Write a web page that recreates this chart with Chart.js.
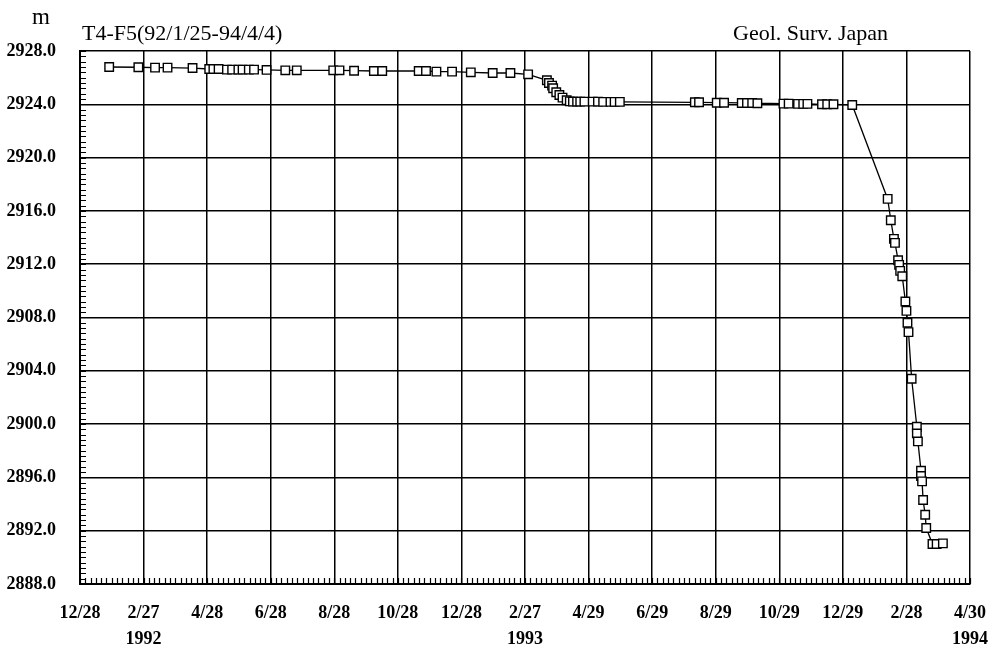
<!DOCTYPE html>
<html>
<head>
<meta charset="utf-8">
<script src="https://cdn.jsdelivr.net/npm/chart.js@4.4.1/dist/chart.umd.min.js"></script>
<style>
  body { margin: 0; background: #fff; }
  #wrap { width: 994px; height: 650px; }
</style>
</head>
<body>
<div id="wrap"><canvas id="depthChart" width="994" height="650"></canvas></div>
<script>
// Reading dates (yyyy-mm-dd) and water level depth (m), T4-F5
const readDates = [
    '1992-01-25', '1992-02-22', '1992-03-09', '1992-03-21', '1992-04-14',
    '1992-04-30', '1992-05-04', '1992-05-09', '1992-05-17', '1992-05-22',
    '1992-05-28', '1992-06-01', '1992-06-07', '1992-06-12', '1992-06-24',
    '1992-07-12', '1992-07-23', '1992-08-27', '1992-09-02', '1992-09-16',
    '1992-10-05', '1992-10-13', '1992-11-17', '1992-11-24', '1992-12-04',
    '1992-12-19', '1993-01-06', '1993-01-27', '1993-02-13', '1993-03-02',
    '1993-03-20', '1993-03-22', '1993-03-25', '1993-03-26', '1993-03-29',
    '1993-04-01', '1993-04-04', '1993-04-08', '1993-04-11', '1993-04-14',
    '1993-04-18', '1993-04-21', '1993-04-25', '1993-05-03', '1993-05-08',
    '1993-05-13', '1993-05-20', '1993-05-24', '1993-05-29', '1993-08-09',
    '1993-08-13', '1993-08-30', '1993-09-06', '1993-09-23', '1993-09-28',
    '1993-10-03', '1993-10-08', '1993-11-02', '1993-11-07', '1993-11-16',
    '1993-11-21', '1993-11-25', '1993-12-09', '1993-12-14', '1993-12-20',
    '1994-01-07', '1994-02-10', '1994-02-13', '1994-02-16', '1994-02-17',
    '1994-02-20', '1994-02-21', '1994-02-22', '1994-02-24', '1994-02-27',
    '1994-02-28', '1994-03-01', '1994-03-02', '1994-03-05', '1994-03-10',
    '1994-03-10', '1994-03-11', '1994-03-14', '1994-03-14', '1994-03-15',
    '1994-03-16', '1994-03-18', '1994-03-19', '1994-03-25', '1994-03-29',
    '1994-04-04'
];
const depths = [
    2926.80, 2926.78, 2926.75, 2926.75, 2926.72,
    2926.65, 2926.65, 2926.65, 2926.60, 2926.60,
    2926.60, 2926.60, 2926.60, 2926.60, 2926.58,
    2926.55, 2926.55, 2926.55, 2926.55, 2926.52,
    2926.50, 2926.50, 2926.50, 2926.50, 2926.45,
    2926.45, 2926.40, 2926.35, 2926.35, 2926.25,
    2925.80, 2925.60, 2925.40, 2925.20, 2924.90,
    2924.70, 2924.50, 2924.30, 2924.22, 2924.20,
    2924.20, 2924.20, 2924.20, 2924.20, 2924.20,
    2924.18, 2924.18, 2924.18, 2924.18, 2924.15,
    2924.15, 2924.12, 2924.12, 2924.10, 2924.10,
    2924.10, 2924.08, 2924.05, 2924.05, 2924.03,
    2924.03, 2924.03, 2924.00, 2924.00, 2924.00,
    2923.95, 2916.90, 2915.30, 2913.90, 2913.60,
    2912.30, 2911.95, 2911.50, 2911.10, 2909.20,
    2908.50, 2907.60, 2906.90, 2903.40, 2899.80,
    2899.30, 2898.70, 2896.50, 2896.10, 2895.70,
    2894.30, 2893.20, 2892.20, 2891.00, 2891.00,
    2891.05
];

// Axis: days counted from 1991-12-28, one grid line every 61 days
const axisStart = '1991-12-28';
const axisDays = 854;
const dayStep = 61;
const tickLabels = ['12/28', '2/27', '4/28', '6/28', '8/28', '10/28', '12/28',
    '2/27', '4/29', '6/29', '8/29', '10/29', '12/29', '2/28', '4/30'];
const yearLabels = { 1: '1992', 7: '1993', 14: '1994' };
const depthMin = 2888;
const depthMax = 2928;
const depthStep = 4;

const dayOf = (s) => (Date.parse(s) - Date.parse(axisStart)) / 86400000;
const points = readDates.map((d, i) => ({ x: dayOf(d), y: depths[i] }));

// Small inward ticks plus the header texts
const extras = {
    id: 'extras',
    afterDraw(chart) {
        const ctx = chart.ctx;
        const xs = chart.scales.x;
        const ys = chart.scales.y;
        ctx.save();
        ctx.strokeStyle = '#000';
        ctx.lineWidth = 1.2;
        ctx.beginPath();
        for (let v = depthMin; v <= depthMax + 0.001; v += 0.4) {
            const py = Math.round(ys.getPixelForValue(v)) + 0.5;
            ctx.moveTo(xs.left, py);
            ctx.lineTo(xs.left + 6, py);
        }
        for (let d = 0; d <= axisDays + 0.001; d += dayStep / 12) {
            const px = Math.round(xs.getPixelForValue(d)) + 0.5;
            ctx.moveTo(px, ys.bottom);
            ctx.lineTo(px, ys.bottom - 6);
        }
        ctx.stroke();

        ctx.fillStyle = '#000';
        ctx.textBaseline = 'middle';
        ctx.font = '23px "Liberation Serif"';
        ctx.textAlign = 'center';
        ctx.fillText('m', 41, 18);
        ctx.font = '22px "Liberation Serif"';
        ctx.textAlign = 'left';
        ctx.fillText('T4-F5(92/1/25-94/4/4)', 82, 34);
        ctx.fillText('Geol. Surv. Japan', 733, 34);
        ctx.restore();
    }
};

new Chart(document.getElementById('depthChart'), {
    type: 'line',
    data: {
        datasets: [{
            data: points,
            borderColor: '#000',
            borderWidth: 1.3,
            tension: 0,
            pointStyle: 'rect',
            pointRadius: 6,
            pointBorderWidth: 1.4,
            pointBorderColor: '#000',
            pointBackgroundColor: '#fff'
        }]
    },
    options: {
        responsive: false,
        animation: false,
        layout: { padding: { top: 51, right: 24, left: 0, bottom: 0 } },
        plugins: {
            legend: { display: false },
            tooltip: { enabled: false }
        },
        scales: {
            x: {
                type: 'linear',
                min: 0,
                max: axisDays,
                afterFit: (scale) => {
                    scale.height = 66;
                    scale.paddingLeft = 0;
                    scale.paddingRight = 0;
                },
                border: { color: '#000', width: 2 },
                grid: { color: '#000', lineWidth: 1.5, drawTicks: false },
                ticks: {
                    stepSize: dayStep,
                    autoSkip: false,
                    maxRotation: 0,
                    padding: 16,
                    color: '#000',
                    font: { family: 'Liberation Serif', size: 18, weight: 'bold', lineHeight: 1.45 },
                    callback: (v, i) => {
                        const label = tickLabels[i] || '';
                        return yearLabels[i] ? [label, yearLabels[i]] : label;
                    }
                }
            },
            y: {
                min: depthMin,
                max: depthMax,
                afterFit: (scale) => {
                    scale.width = 80;
                    scale.paddingTop = 0;
                    scale.paddingBottom = 0;
                },
                border: { color: '#000', width: 2 },
                grid: { color: '#000', lineWidth: 1.5, drawTicks: false },
                ticks: {
                    stepSize: depthStep,
                    padding: 24,
                    color: '#000',
                    font: { family: 'Liberation Serif', size: 18, weight: 'bold' },
                    callback: (v) => v.toFixed(1)
                }
            }
        }
    },
    plugins: [extras]
});
</script>
</body>
</html>
